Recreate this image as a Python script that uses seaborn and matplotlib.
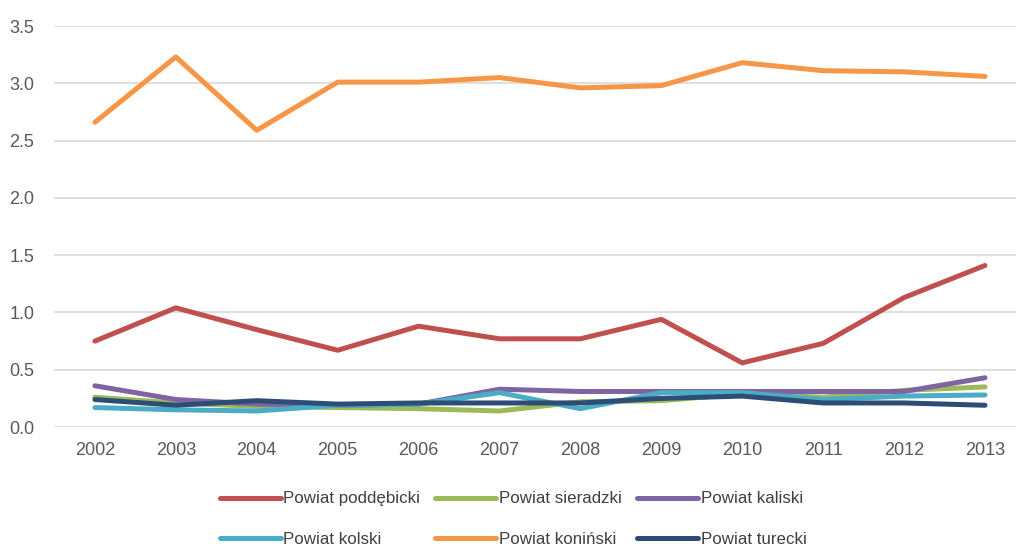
import matplotlib
matplotlib.use("Agg")
import matplotlib.pyplot as plt
import seaborn as sns
import pandas as pd

years = [2002, 2003, 2004, 2005, 2006, 2007, 2008, 2009, 2010, 2011, 2012, 2013]

poddebicki = [0.75, 1.04, 0.85, 0.67, 0.88, 0.77, 0.77, 0.94, 0.56, 0.73, 1.13, 1.41]
sieradzki = [0.26, 0.21, 0.18, 0.17, 0.16, 0.14, 0.22, 0.23, 0.29, 0.26, 0.32, 0.35]
kaliski = [0.36, 0.24, 0.20, 0.19, 0.20, 0.33, 0.31, 0.31, 0.31, 0.31, 0.31, 0.43]
kolski = [0.17, 0.15, 0.14, 0.19, 0.20, 0.30, 0.16, 0.30, 0.30, 0.24, 0.27, 0.28]
koninski = [2.66, 3.23, 2.59, 3.01, 3.01, 3.05, 2.96, 2.98, 3.18, 3.11, 3.10, 3.06]
turecki = [0.24, 0.19, 0.23, 0.20, 0.21, 0.21, 0.21, 0.25, 0.27, 0.21, 0.21, 0.19]

series_names = ["Powiat poddębicki", "Powiat sieradzki", "Powiat kaliski",
                "Powiat kolski", "Powiat koniński", "Powiat turecki"]
series_values = [poddebicki, sieradzki, kaliski, kolski, koninski, turecki]
colors = ["#C0504D", "#9BBB59", "#8064A2", "#4BACC6", "#F79646", "#2C4D75"]

y_ticks = [0.0, 0.5, 1.0, 1.5, 2.0, 2.5, 3.0, 3.5]

df = pd.DataFrame(
    [(n, i, v) for n, vals in zip(series_names, series_values)
     for i, v in enumerate(vals)],
    columns=["series", "pos", "value"],
)

sns.set_theme(style="white")
plt.rcParams["font.family"] = ["Liberation Sans", "DejaVu Sans"]

fig = plt.figure(figsize=(10.16, 5.5), dpi=100)
ax = fig.add_axes([0.0536, 0.2236, 0.9557, 0.7291])

sns.lineplot(data=df, x="pos", y="value", hue="series", hue_order=series_names,
             palette=colors, linewidth=3.6, ax=ax, legend=False,
             solid_capstyle="round")

ax.set_xlim(-0.5, len(years) - 0.5)
ax.set_ylim(0, 3.5)
ax.set_yticks(y_ticks)
ax.set_yticklabels([f"{t:.1f}" for t in y_ticks])
ax.set_xticks(range(len(years)))
ax.set_xticklabels([str(y) for y in years])
ax.tick_params(axis="both", length=0, labelsize=13, colors="#595959")
ax.tick_params(axis="x", pad=11)
ax.tick_params(axis="y", pad=14.5)
ax.yaxis.grid(True, color="#D9D9D9", linewidth=1.2)
ax.set_axisbelow(True)
for s in ax.spines.values():
    s.set_visible(False)
ax.set_xlabel("")
ax.set_ylabel("")

# legend handles, arranged so rows read left-to-right in series order
handles = [plt.Line2D([], [], color=c, linewidth=3.6, solid_capstyle="round")
           for c in colors]
order = [0, 3, 1, 4, 2, 5]
fig.legend([handles[i] for i in order], [series_names[i] for i in order],
           ncol=3, loc="lower center", bbox_to_anchor=(0.505, -0.022),
           frameon=False, fontsize=12.2, handlelength=3.6, handletextpad=0.15,
           columnspacing=0.9, labelspacing=1.5, labelcolor="#404040")

fig.savefig("out.png", dpi=100)
